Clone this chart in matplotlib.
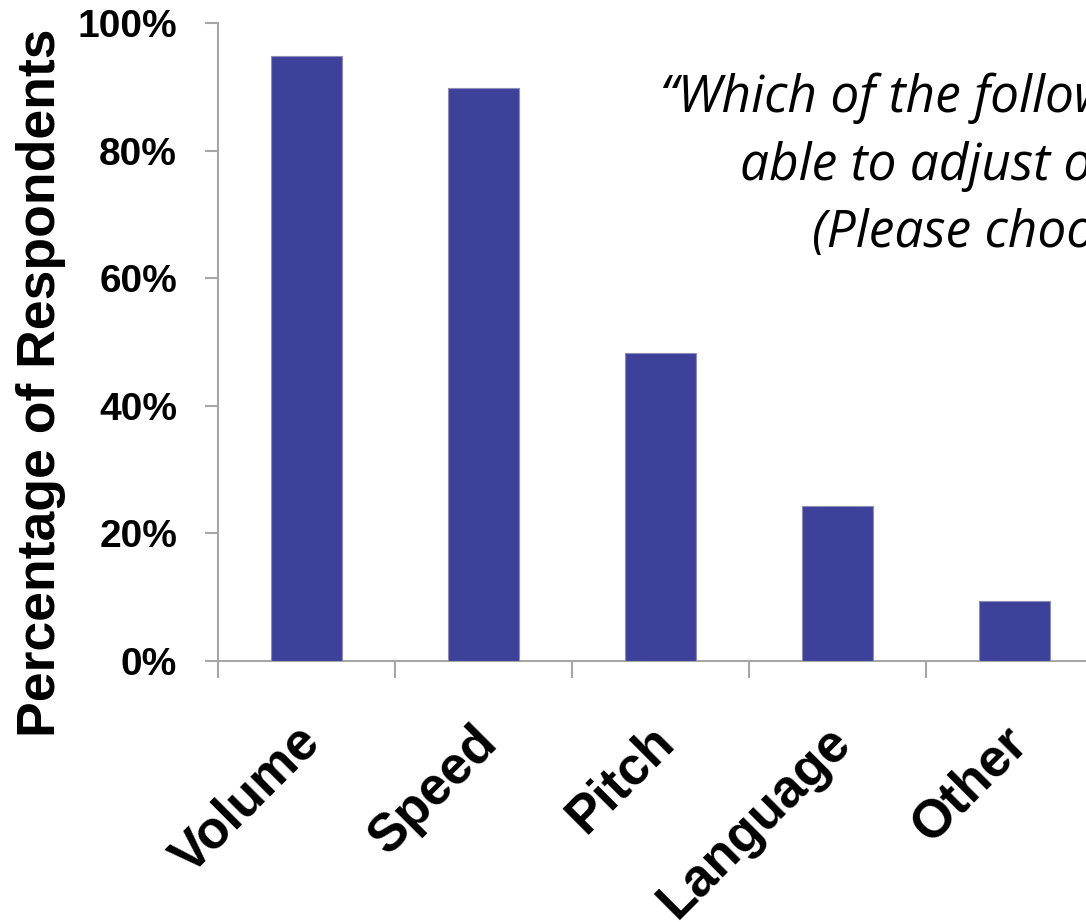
import matplotlib.pyplot as plt
from matplotlib.ticker import FixedLocator, PercentFormatter
from matplotlib.transforms import ScaledTranslation

# survey answers
categories = ["Volume", "Speed", "Pitch", "Language", "Other"]
percentages = [94.8, 89.8, 48.3, 24.3, 9.4]
y_ticks = [0, 20, 40, 60, 80, 100]
question = [
    "\u201cWhich of the following would you like to be",
    "able to adjust on your screen reader?",
    "(Please choose all that apply)\u201d",
]

plt.rcParams['font.family'] = ['Liberation Sans', 'DejaVu Sans']
plt.rcParams['font.weight'] = 'bold'

fig = plt.figure(figsize=(10.86, 9.22), dpi=100)
W, H = 1086, 922
ax = fig.add_axes([218 / W, 1 - 661 / H, 885 / W, 638 / H])

bar_color = '#3d419a'
axis_color = '#a6a6a6'
x = list(range(len(categories)))
ax.bar(x, percentages, width=0.4, color=bar_color, edgecolor='#8c8cb4',
       linewidth=0.8, zorder=3)

ax.set_xlim(-0.5, len(categories) - 0.5)
ax.set_ylim(0, 100)

for side in ['top', 'right']:
    ax.spines[side].set_visible(False)
for side in ['left', 'bottom']:
    ax.spines[side].set_color(axis_color)
    ax.spines[side].set_linewidth(1.5)

ax.set_yticks(y_ticks)
ax.yaxis.set_major_formatter(PercentFormatter(decimals=0))
ax.tick_params(axis='y', direction='out', length=9.5, width=1.5,
               color=axis_color, labelsize=28, pad=20)

# category boundaries get the tick marks, labels sit under the bars
ax.set_xticks(x)
ax.set_xticklabels(categories, rotation=45, ha='right', va='top',
                   rotation_mode='anchor', fontsize=38)
ax.xaxis.set_minor_locator(FixedLocator([i - 0.5 for i in range(len(categories) + 1)]))
ax.tick_params(axis='x', which='major', length=0, pad=40)
ax.tick_params(axis='x', which='minor', direction='out', length=12,
               width=1.5, color=axis_color)
shift = ScaledTranslation(-0.12, 0, fig.dpi_scale_trans)
for lbl in ax.get_xticklabels():
    lbl.set_transform(lbl.get_transform() + shift)

fig.text(55 / W, 1 - 383 / H, "Percentage of Respondents", rotation=90,
         rotation_mode='anchor', ha='center', va='baseline',
         fontsize=38.5, fontweight='bold')

# question text in the upper right
q_x = [660, 740, 812]
q_y = [112, 180, 247]
for line, qx, qy in zip(question, q_x, q_y):
    fig.text(qx / W, 1 - qy / H, line, family='Open Sans', style='italic',
             fontweight='normal', fontsize=37, va='baseline', ha='left')

fig.savefig('out.png', dpi=100)
